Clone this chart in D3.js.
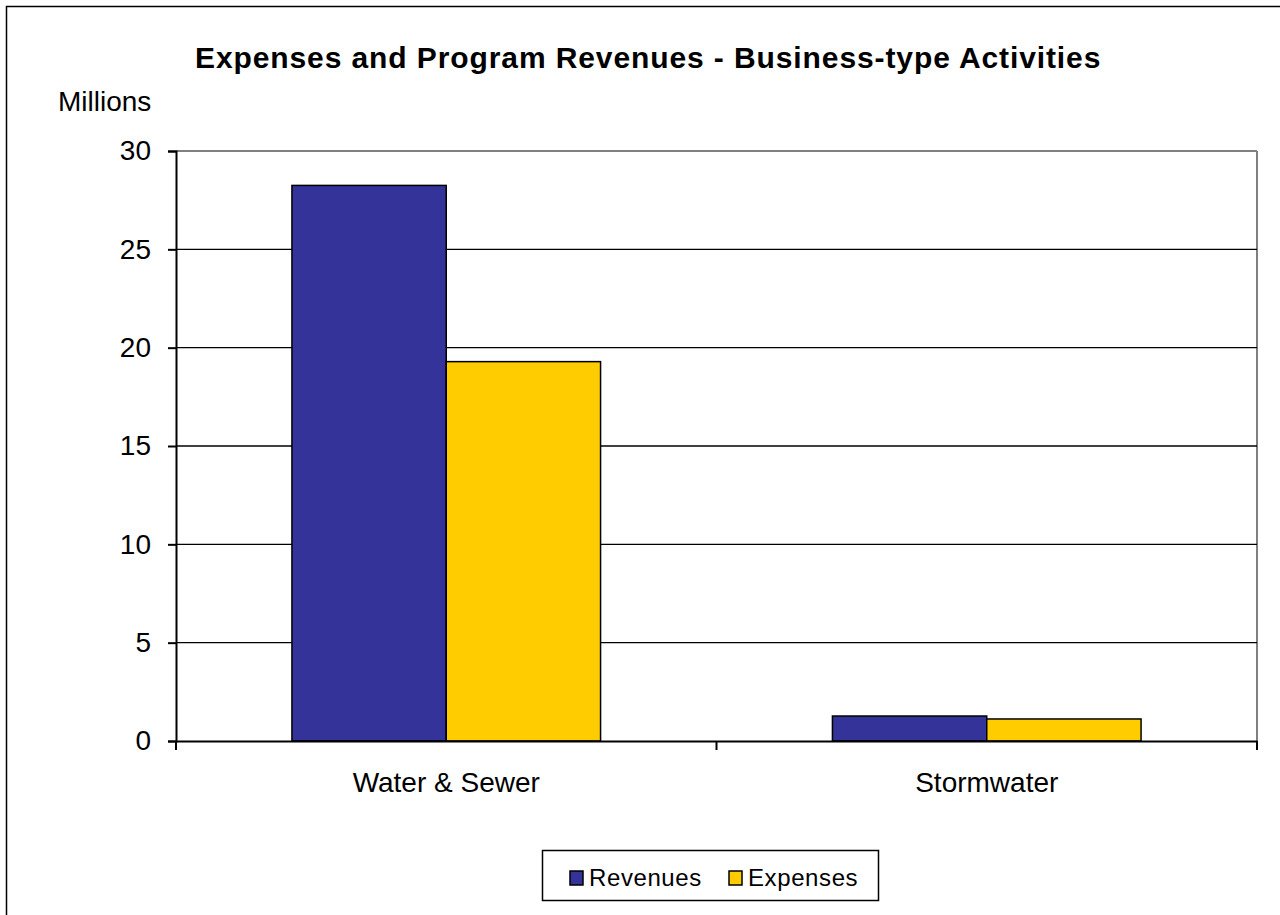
<!DOCTYPE html>
<html>
<head>
<meta charset="utf-8">
<script src="https://cdn.jsdelivr.net/npm/d3@7"></script>
<style>
  html, body { margin: 0; padding: 0; background: #fff; }
  svg { display: block; font-family: "Liberation Sans", Arial, sans-serif; }
</style>
</head>
<body>
<svg id="chart" width="1280" height="915"></svg>
<script>
const categories = ["Water & Sewer", "Stormwater"];
const seriesNames = ["Revenues", "Expenses"];
const revenues = [28.25, 1.27];
const expenses = [19.29, 1.12];
const yTicks = [0, 5, 10, 15, 20, 25, 30];
const colors = ["#333399", "#FFCC00"];

(function () {
const svg = d3.select("#chart");
const pLeft = 176, pRight = 1257, pTop = 151, pBottom = 741;

// outer border (right/bottom clipped)
svg.append("rect").attr("x", 6.5).attr("y", 6.5).attr("width", 1300).attr("height", 1000)
  .attr("fill", "none").attr("stroke", "#000").attr("stroke-width", 1.5);

const y = d3.scaleLinear().domain([0, 30]).range([pBottom, pTop]);
const x0 = d3.scaleBand().domain(categories).range([pLeft, pRight]).paddingInner(0).paddingOuter(0);
const bw = x0.bandwidth();
const x1 = d3.scaleBand().domain(seriesNames).range([bw * 0.2145, bw * (1 - 0.2145)]);

// plot frame (grey top & right)
svg.append("line").attr("x1", pLeft).attr("x2", pRight).attr("y1", pTop).attr("y2", pTop)
  .attr("stroke", "#808080").attr("stroke-width", 2);
svg.append("line").attr("x1", pRight).attr("x2", pRight).attr("y1", pTop).attr("y2", pBottom)
  .attr("stroke", "#808080").attr("stroke-width", 2);

// gridlines
svg.append("g").selectAll("line").data(yTicks.filter(d => d > 0 && d < 30)).join("line")
  .attr("x1", pLeft).attr("x2", pRight)
  .attr("y1", d => y(d)).attr("y2", d => y(d))
  .attr("stroke", "#000").attr("stroke-width", 1.4);

// bars
const data = categories.map((c, i) => ({ cat: c, vals: [revenues[i], expenses[i]] }));
const groups = svg.append("g").selectAll("g").data(data).join("g")
  .attr("transform", d => `translate(${x0(d.cat)},0)`);
groups.selectAll("rect").data(d => d.vals.map((v, j) => ({ s: seriesNames[j], v, j }))).join("rect")
  .attr("x", d => x1(d.s))
  .attr("width", x1.bandwidth())
  .attr("y", d => y(d.v))
  .attr("height", d => y(0) - y(d.v))
  .attr("fill", d => colors[d.j])
  .attr("stroke", "#000").attr("stroke-width", 1.5);

// y axis
const yAxis = svg.append("g").attr("transform", `translate(${pLeft},0)`)
  .call(d3.axisLeft(y).tickValues(yTicks).tickSize(8).tickPadding(17).tickFormat(d3.format("d")));
yAxis.select(".domain").attr("stroke", "#000").attr("stroke-width", 2);
yAxis.selectAll(".tick line").attr("stroke", "#000").attr("stroke-width", 2);
yAxis.selectAll(".tick text").attr("font-size", 28).attr("fill", "#000")
  .attr("font-family", "Liberation Sans, Arial, sans-serif");

// x axis
const xAxis = svg.append("g").attr("transform", `translate(0,${pBottom})`)
  .call(d3.axisBottom(x0).tickSize(0).tickPadding(0));
xAxis.select(".domain").attr("stroke", "#000").attr("stroke-width", 2);
xAxis.selectAll(".tick text").attr("font-size", 28).attr("fill", "#000")
  .attr("font-family", "Liberation Sans, Arial, sans-serif")
  .attr("dy", null).attr("y", 51);
// x ticks at band boundaries
const boundaries = [x0(categories[0]), ...categories.map(c => x0(c) + bw)];
svg.append("g").selectAll("line").data(boundaries).join("line")
  .attr("x1", d => d).attr("x2", d => d).attr("y1", pBottom).attr("y2", pBottom + 9)
  .attr("stroke", "#000").attr("stroke-width", 2);

// title
svg.append("text").attr("x", 195).attr("y", 68).attr("text-anchor", "start")
  .attr("font-size", 30).attr("letter-spacing", 0.9).attr("font-weight", "bold")
  .text("Expenses and Program Revenues - Business-type Activities");
svg.append("text").attr("x", 58).attr("y", 111).attr("font-size", 28).text("Millions");

// legend
const lg = svg.append("g");
lg.append("rect").attr("x", 542.5).attr("y", 850.5).attr("width", 336).attr("height", 50)
  .attr("fill", "#fff").attr("stroke", "#000").attr("stroke-width", 1.5);
const legX = [570, 729];
const items = lg.selectAll("g").data(seriesNames).join("g")
  .attr("transform", (d, i) => `translate(${legX[i]},871)`);
items.append("rect").attr("width", 13).attr("height", 14)
  .attr("fill", (d, i) => colors[i]).attr("stroke", "#000").attr("stroke-width", 1.5);
items.append("text").attr("x", 19).attr("y", 15).attr("font-size", 24)
  .attr("letter-spacing", 0.6).text(d => d);
})();
</script>
</body>
</html>
